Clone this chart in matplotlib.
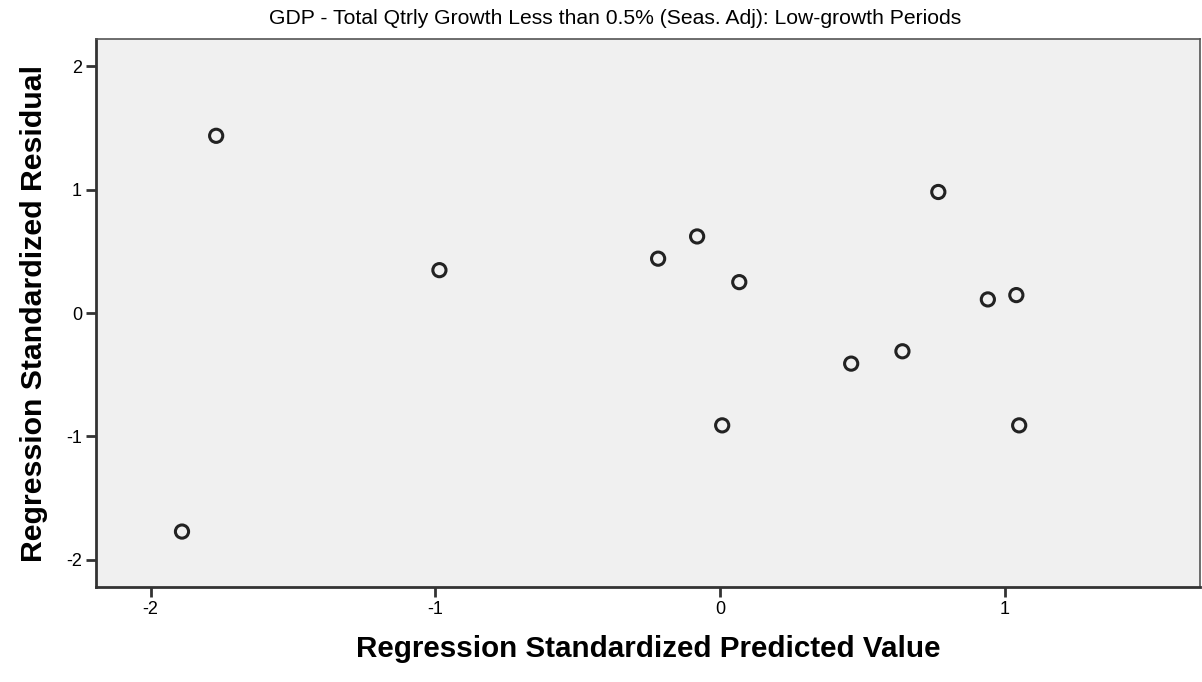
import matplotlib
matplotlib.use("Agg")
import matplotlib.pyplot as plt

predicted = [-1.77, -1.89, -0.986, -0.218, -0.081, 0.067, 0.007, 0.46, 0.64, 0.766, 0.94, 1.04, 1.05]
residual = [1.435, -1.77, 0.347, 0.44, 0.62, 0.25, -0.91, -0.41, -0.31, 0.98, 0.11, 0.145, -0.91]
xticks = [-2, -1, 0, 1]
yticks = [-2, -1, 0, 1, 2]

plt.rcParams['font.family'] = ['Liberation Sans', 'DejaVu Sans']

fig = plt.figure(figsize=(12.02, 6.82), dpi=100)
ax = fig.add_axes([96/1202, 95/682, (1200-96)/1202, (587-39)/682])
ax.set_facecolor('#f0f0f0')
ax.scatter(predicted, residual, s=90, facecolors='none', edgecolors='#222222', linewidths=2.2, zorder=3)
ax.set_xlim(-2.192, 1.685)
ax.set_ylim(-2.219, 2.219)
ax.set_xticks(xticks)
ax.set_yticks(yticks)
ax.set_xticklabels([str(t) for t in xticks])
ax.set_yticklabels([str(t) for t in yticks])
ax.tick_params(direction='out', length=7, width=2, color='#333333', labelsize=13, pad=3)
for side in ['left', 'bottom']:
    ax.spines[side].set_linewidth(2)
    ax.spines[side].set_color('#333333')
for side in ['top', 'right']:
    ax.spines[side].set_linewidth(1.2)
    ax.spines[side].set_color('#555555')
fig.text(615/1202, 1 - 19/682, 'GDP - Total Qtrly Growth Less than 0.5% (Seas. Adj): Low-growth Periods',
         fontsize=15.2, ha='center', va='center')
ax.set_xlabel('Regression Standardized Predicted Value', fontsize=21.3, fontweight='bold', labelpad=12)
ax.set_ylabel('Regression Standardized Residual', fontsize=21.8, fontweight='bold', labelpad=13)
fig.savefig('out.png', dpi=100)
